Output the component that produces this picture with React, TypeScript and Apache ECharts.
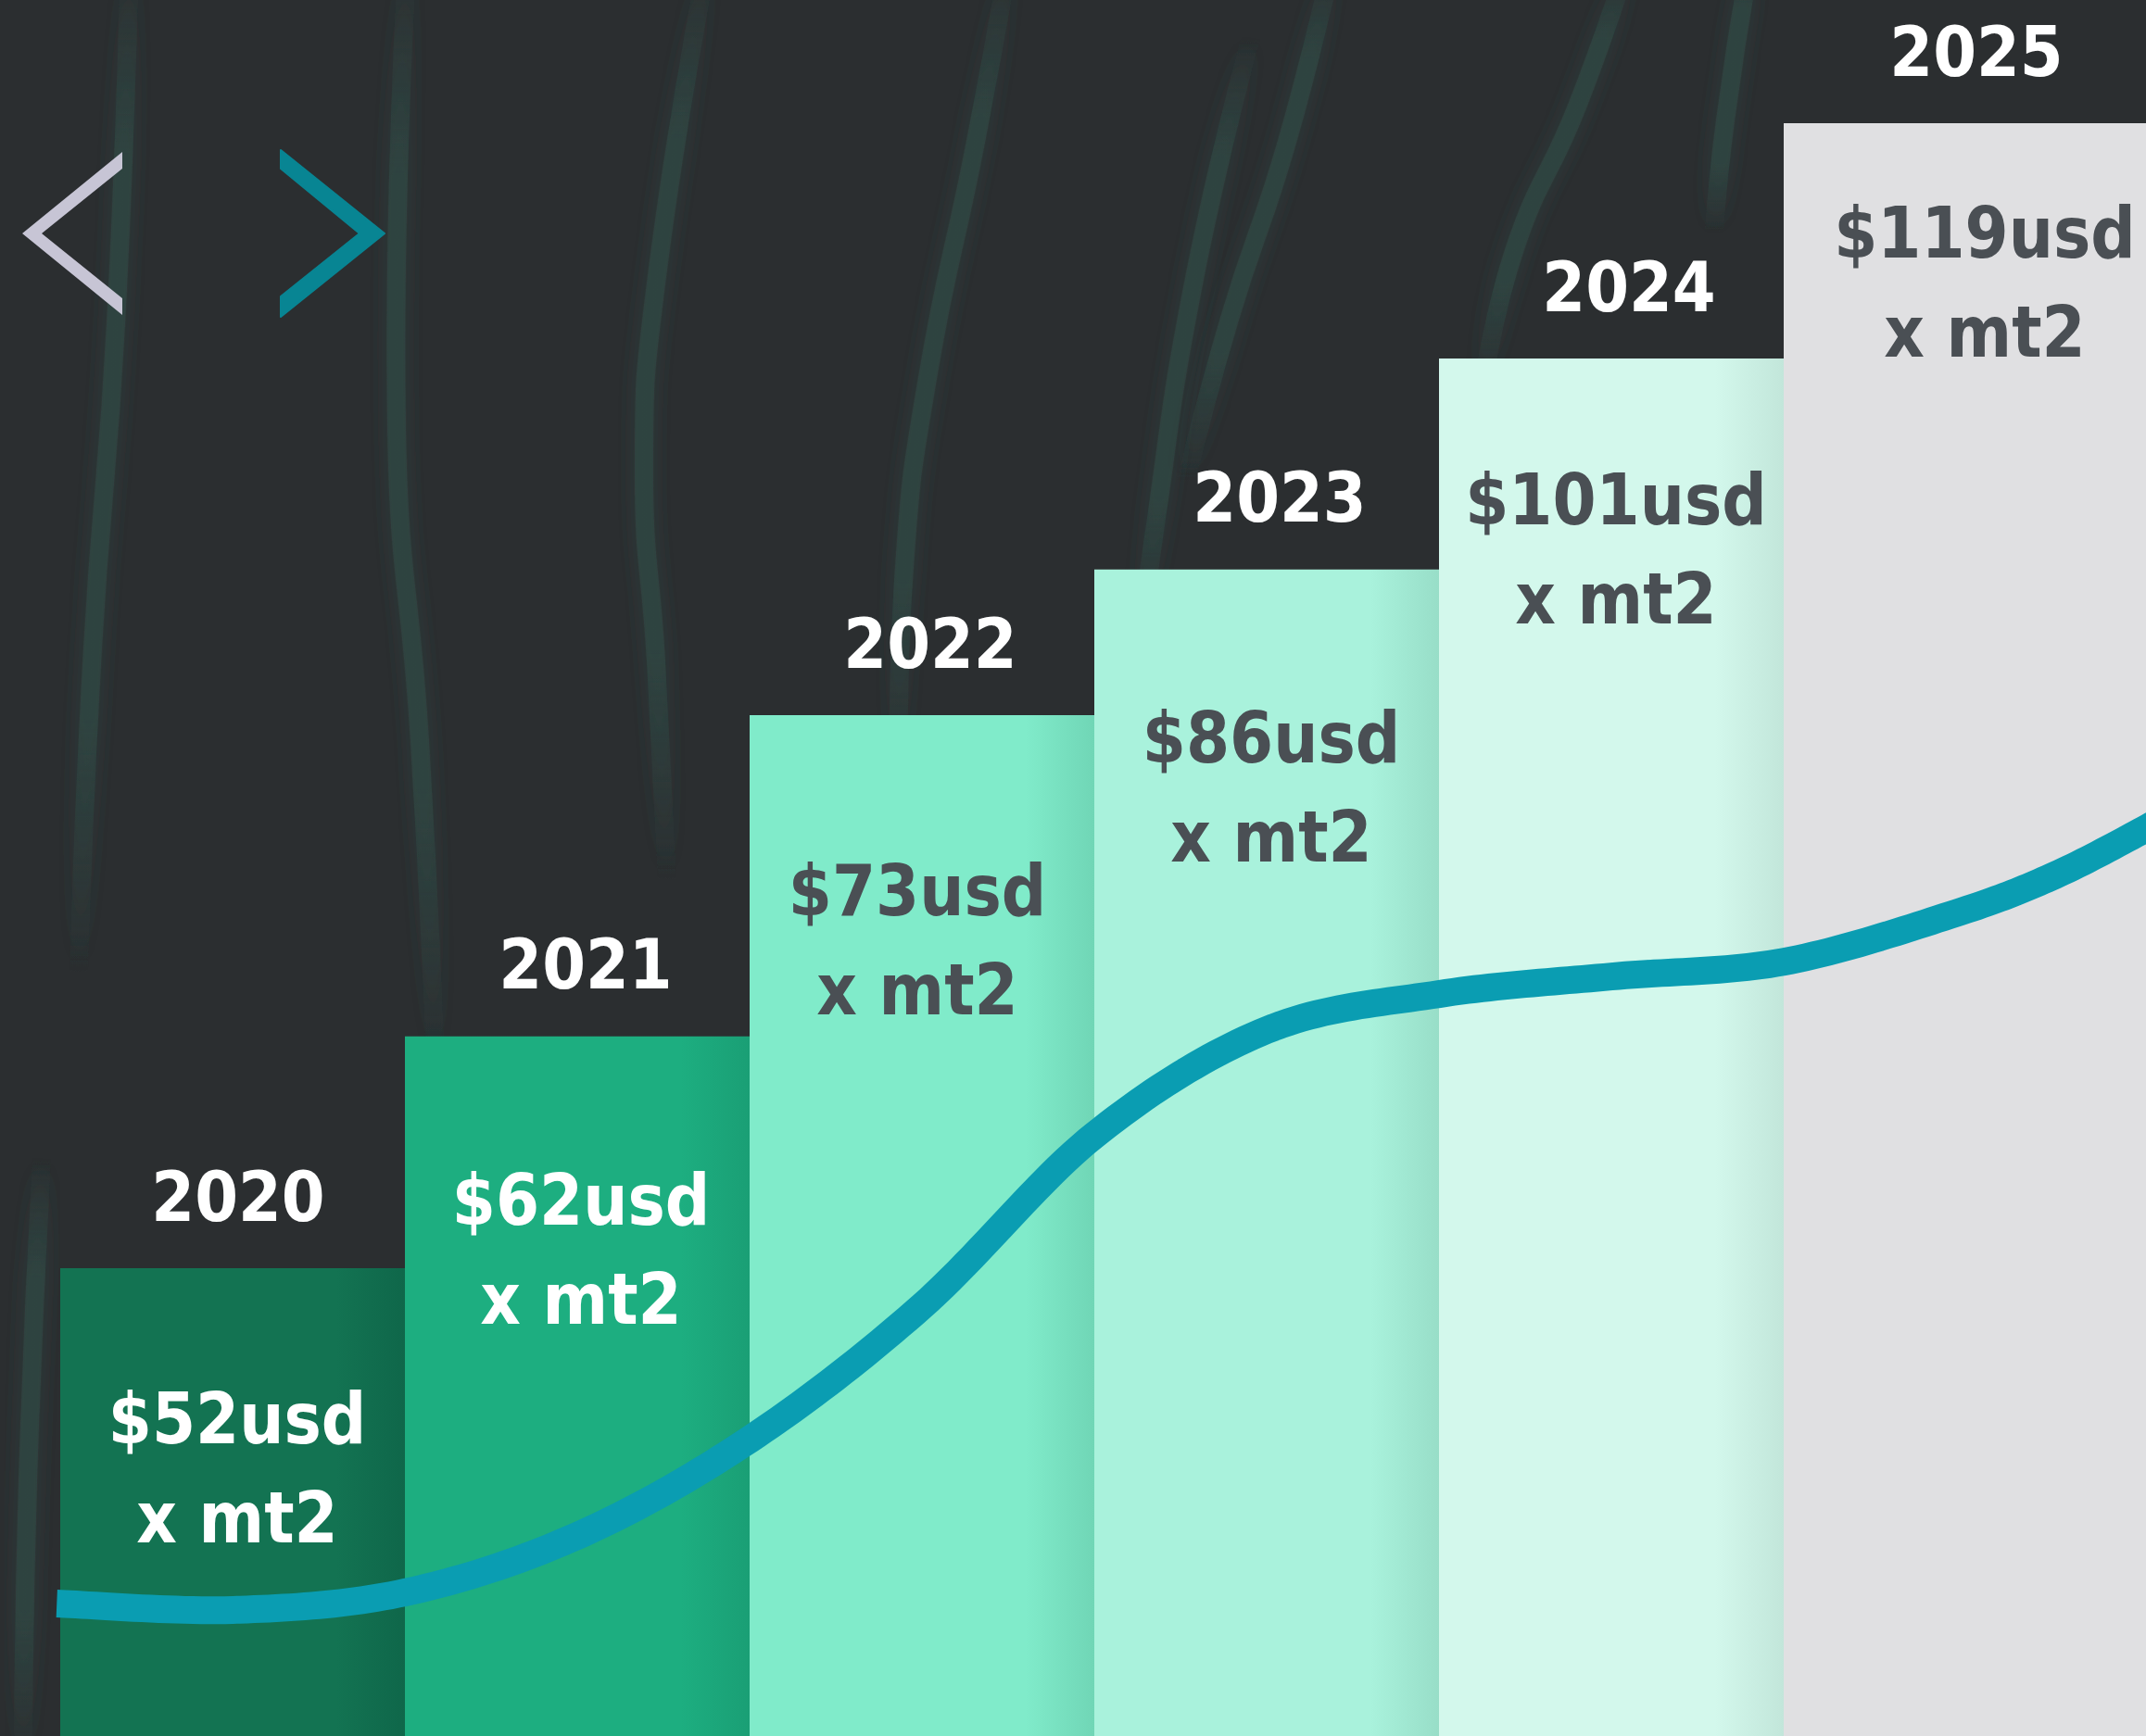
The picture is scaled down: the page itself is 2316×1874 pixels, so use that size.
import React, { useEffect, useRef } from "react";
import * as echarts from "echarts";

// ---------- data ----------
const years = ["2020", "2021", "2022", "2023", "2024", "2025"];
const prices = [52, 62, 73, 86, 101, 119]; // usd per m2 (labels)
// visual bar heights, in % of the chart height
const barLevels = [26.95, 40.3, 58.8, 67.2, 79.35, 92.9];
// trend curve: x in year-slot units (0 = centre of 2020), y in % of chart height
const curveX = [-0.51, 0, 0.5, 1.0, 1.5, 2.0, 2.5, 3.0, 3.5, 4.0, 4.5, 5.0, 5.3, 5.6];
const curveY = [7.63, 7.26, 8.27, 11.53, 17.08, 24.76, 34.6, 40.66, 42.74, 43.75, 44.6, 47.4, 49.7, 52.8];

// ---------- styling ----------
const W = 2316;
const H = 1874;
const BG = "#2B2E30";
const barColors = ["#137352", "#1DAE80", "#80EBCA", "#A9F2DC", "#D3F8EC", "#E0E0E2"];
const barEdgeColors = ["#0F674A", "#1A9F75", "#70D6B6", "#98DEC8", "#C2E6DA", "#E0E0E2"];
const valueColors = ["#FFFFFF", "#FFFFFF", "#4A4F54", "#4A4F54", "#4A4F54", "#4A4F54"];
const yearShift = [6, 9, 9, 14, 19, 22];
const valueShift = [5, 4, -5, 5, 5, 31];
const valueDrop = [163, 177, 189, 182, 152, 118];
const YEAR_RISE = 77;
const FONT = "'DejaVu Sans', Verdana, sans-serif";

const streaks: number[][][] = [
  [[140, -50], [125, 350], [100, 700], [85, 1050]],
  [[440, -50], [428, 460], [453, 800], [470, 1150]],
  [[765, -50], [708, 306], [695, 510], [708, 714], [720, 950]],
  [[1090, -50], [1053, 153], [1001, 408], [976, 612], [970, 850]],
  [[1350, 40], [1288, 306], [1244, 587], [1230, 700]],
  [[1440, -50], [1389, 153], [1327, 344], [1280, 520]],
  [[1760, -50], [1702, 115], [1635, 268], [1600, 420]],
  [[1890, -50], [1862, 130], [1850, 250]],
  [[45, 1250], [30, 1600], [25, 1900]],
];

// Catmull-Rom spline through screen points, sampled for drawing
function spline(pts: number[][], steps = 24): number[][] {
  const out: number[][] = [];
  const n = pts.length;
  for (let i = 0; i < n - 1; i++) {
    const p0 = pts[Math.max(0, i - 1)];
    const p1 = pts[i];
    const p2 = pts[i + 1];
    const p3 = pts[Math.min(n - 1, i + 2)];
    const b1 = [p1[0] + (p2[0] - p0[0]) / 6, p1[1] + (p2[1] - p0[1]) / 6];
    const b2 = [p2[0] - (p3[0] - p1[0]) / 6, p2[1] - (p3[1] - p1[1]) / 6];
    for (let s = 0; s < steps; s++) {
      const t = s / steps;
      const u = 1 - t;
      out.push([
        u * u * u * p1[0] + 3 * u * u * t * b1[0] + 3 * u * t * t * b2[0] + t * t * t * p2[0],
        u * u * u * p1[1] + 3 * u * u * t * b1[1] + 3 * u * t * t * b2[1] + t * t * t * p2[1],
      ]);
    }
  }
  out.push(pts[n - 1]);
  return out;
}

function buildOption() {
  const streakColor = "rgba(48,78,72,0.9)";
  const graphics: any[] = streaks.map((pts) => ({
    type: "polyline",
    z: 0,
    shape: { points: pts, smooth: 0.5 },
    style: {
      fill: null,
      stroke: new echarts.graphic.LinearGradient(0, 0, 0, 1, [
        { offset: 0, color: "rgba(48,78,72,0)" },
        { offset: 0.2, color: streakColor },
        { offset: 0.75, color: streakColor },
        { offset: 1, color: "rgba(48,78,72,0)" },
      ]),
      lineWidth: 20,
      opacity: 0.6,
      shadowBlur: 20,
      shadowColor: "rgba(48,78,72,0.8)",
    },
    silent: true,
  }));
  graphics.push({
    type: "polygon",
    z: 1,
    shape: { points: [[132, 164], [24, 252], [132, 340], [132, 322], [45, 252], [132, 182]] },
    style: { fill: "#C7C5D5" },
  });
  graphics.push({
    type: "polygon",
    z: 1,
    shape: { points: [[303, 162], [415, 252], [303, 342], [303, 320], [388, 252], [303, 182]] },
    style: { fill: "#088593", stroke: "#088593", lineWidth: 2, lineJoin: "round" },
  });

  const barData = years.map((y, i) => [i, barLevels[i], prices[i]]);
  const curveData = curveX.map((x, i) => [x, curveY[i]]);

  return {
    animation: false,
    backgroundColor: BG,
    graphic: graphics,
    grid: [
      { left: 65, right: 19, top: 0, bottom: 0 },
      { left: 65, right: 19, top: 0, bottom: 0 },
    ],
    xAxis: [
      { type: "category", data: years, gridIndex: 0, show: false, boundaryGap: true },
      { type: "value", gridIndex: 1, min: -0.5, max: 5.5, show: false },
    ],
    yAxis: [
      { type: "value", gridIndex: 0, min: 0, max: 100, show: false },
      { type: "value", gridIndex: 1, min: 0, max: 100, show: false },
    ],
    series: [
      {
        type: "custom",
        xAxisIndex: 0,
        yAxisIndex: 0,
        z: 2,
        data: barData,
        renderItem: (params: any, api: any) => {
          const i = params.dataIndex;
          const top = api.coord([api.value(0), api.value(1)]);
          const base = api.coord([api.value(0), 0]);
          const band = api.size([1, 0])[0];
          const x0 = top[0] - band / 2;
          const isLast = i === years.length - 1;
          const w = isLast ? api.getWidth() - x0 : band;
          const fill = new echarts.graphic.LinearGradient(0, 0, 1, 0, [
            { offset: 0, color: barColors[i] },
            { offset: 0.8, color: barColors[i] },
            { offset: 1, color: barEdgeColors[i] },
          ]);
          return {
            type: "group",
            children: [
              {
                type: "rect",
                shape: { x: x0, y: top[1], width: w, height: base[1] - top[1] },
                style: { fill },
              },
              {
                type: "text",
                x: top[0] + yearShift[i],
                y: top[1] - YEAR_RISE,
                scaleX: 0.91,
                style: {
                  text: years[i],
                  x: 0,
                  y: 0,
                  align: "center",
                  verticalAlign: "middle",
                  fill: "#FFFFFF",
                  fontFamily: FONT,
                  fontWeight: "bold",
                  fontSize: 74,
                },
              },
              {
                type: "text",
                x: top[0] + valueShift[i],
                y: top[1] + valueDrop[i] - 53.5,
                scaleX: 0.88,
                style: {
                  text: "$" + api.value(2) + "usd\nx mt2",
                  x: 0,
                  y: 0,
                  align: "center",
                  verticalAlign: "top",
                  lineHeight: 107,
                  fill: valueColors[i],
                  fontFamily: FONT,
                  fontWeight: "bold",
                  fontSize: 77,
                },
              },
            ],
          };
        },
      },
      {
        type: "custom",
        name: "trend",
        xAxisIndex: 1,
        yAxisIndex: 1,
        z: 5,
        clip: false,
        data: curveData,
        renderItem: (params: any, api: any) => {
          if (params.dataIndex !== 0) return null;
          const pts = curveData.map((d) => api.coord(d));
          return {
            type: "polyline",
            shape: { points: spline(pts) },
            style: { fill: null, stroke: "#0A9DB2", lineWidth: 30, lineCap: "butt", lineJoin: "round" },
          };
        },
      },
    ],
  };
}

export default function App() {
  const ref = useRef<HTMLDivElement>(null);
  useEffect(() => {
    if (!ref.current) return;
    const chart = echarts.init(ref.current, undefined, { renderer: "svg" });
    chart.setOption(buildOption() as any);
    return () => chart.dispose();
  }, []);
  return (
    <div
      ref={ref}
      style={{ position: "fixed", left: 0, top: 0, width: W, height: H, background: BG }}
    />
  );
}
